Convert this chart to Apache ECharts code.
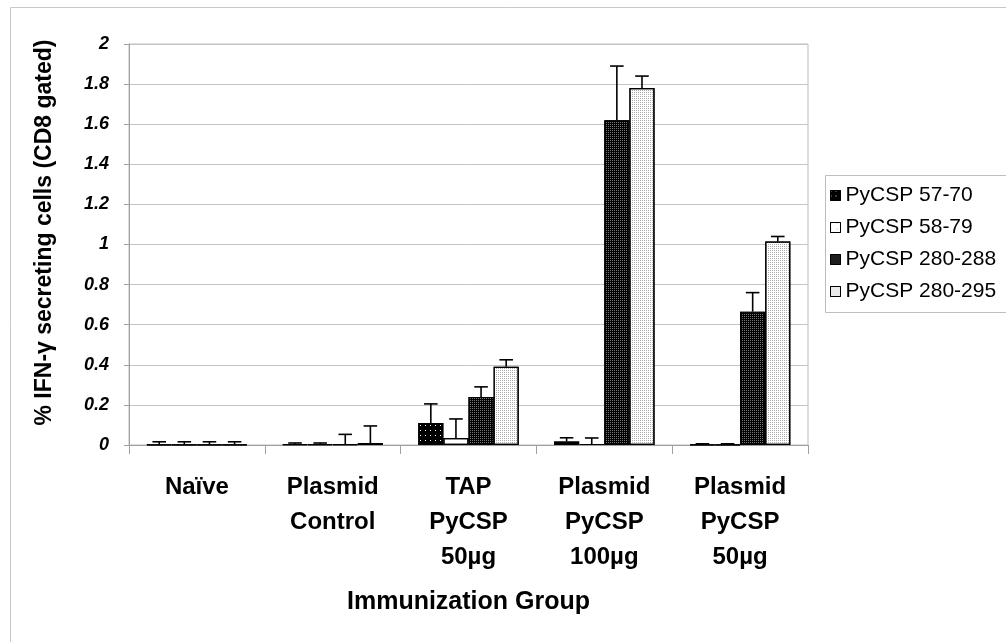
<!DOCTYPE html>
<html>
<head>
<meta charset="utf-8">
<script src="https://cdn.jsdelivr.net/npm/echarts@6/dist/echarts.min.js"></script>
<style>html,body{margin:0;padding:0;background:#fff}#c{width:1006px;height:642px}</style>
</head>
<body>
<div id="c"></div>
<script>
const categories = ['Naïve', 'Plasmid\nControl', 'TAP\nPyCSP\n50µg', 'Plasmid\nPyCSP\n100µg', 'Plasmid\nPyCSP\n50µg'];
const seriesNames = ['PyCSP 57-70', 'PyCSP 58-79', 'PyCSP 280-288', 'PyCSP 280-295'];
const vals5770 = [0.002, 0.003, 0.11, 0.018, 0.002];
const err5770 = [0.014, 0.007, 0.095, 0.018, 0.004];
const vals5879 = [0.002, 0.003, 0.035, 0.005, 0.002];
const err5879 = [0.014, 0.007, 0.095, 0.03, 0.004];
const vals280288 = [0.002, 0.003, 0.24, 1.62, 0.665];
const err280288 = [0.014, 0.05, 0.05, 0.27, 0.095];
const vals280295 = [0.002, 0.01, 0.39, 1.78, 1.015];
const err280295 = [0.014, 0.085, 0.035, 0.06, 0.025];
const yTicks = [0, 0.2, 0.4, 0.6, 0.8, 1, 1.2, 1.4, 1.6, 1.8, 2];

const allVals = [vals5770, vals5879, vals280288, vals280295];
const allErr = [err5770, err5879, err280288, err280295];
const GAP = 0.26;

const styles = [
  {color: '#000', decal: {symbol: 'rect', symbolSize: 1, color: '#ffffff', dashArrayX: [1, 4], dashArrayY: [1, 4]}},
  {color: '#fff', decal: {symbol: 'rect', symbolSize: 1, color: '#bbbbbb', dashArrayX: [1, 5], dashArrayY: [1, 5]}},
  {color: '#000', decal: {symbol: 'rect', symbolSize: 1, color: '#777777', dashArrayX: [1, 1], dashArrayY: [1, 1]}},
  {color: '#fff', decal: {symbol: 'rect', symbolSize: 1, color: '#aaaaaa', dashArrayX: [1, 1], dashArrayY: [1, 1]}}
];

const series = [];
seriesNames.forEach((name, i) => {
  series.push({
    name: name, type: 'bar', data: allVals[i], barGap: '0%', barCategoryGap: (GAP * 100) + '%',
    itemStyle: {color: styles[i].color, decal: styles[i].decal, borderColor: '#000', borderWidth: 1.2},
    emphasis: {disabled: true}, z: 2
  });
});
seriesNames.forEach((name, i) => {
  series.push({
    type: 'custom', name: name + ' err', z: 5, silent: true,
    data: allVals[i].map((v, k) => [k, v, allErr[i][k]]),
    encode: {x: 0, y: 1},
    renderItem: function (params, api) {
      const k = api.value(0), v = api.value(1), e = api.value(2);
      const band = api.size([1, 0])[0];
      const bw = band * (1 - GAP) / 4;
      const base = api.coord([k, v]);
      const top = api.coord([k, v + e]);
      const x = base[0] + (i - 1.5) * bw;
      const cap = bw * 0.27;
      const st = {stroke: '#000', lineWidth: 1.6};
      return {type: 'group', children: [
        {type: 'line', shape: {x1: x, y1: base[1], x2: x, y2: top[1]}, style: st},
        {type: 'line', shape: {x1: x - cap, y1: top[1], x2: x + cap, y2: top[1]}, style: st}
      ]};
    }
  });
});

const chart = echarts.init(document.getElementById('c'), null, {renderer: 'canvas'});
chart.setOption({
  animation: false,
  backgroundColor: '#fff',
  textStyle: {fontFamily: 'Liberation Sans'},
  grid: {left: 129, right: 198, top: 44, bottom: 197, show: true, borderColor: '#bdbdbd', borderWidth: 1},
  legend: {
    data: seriesNames, orient: 'vertical', left: 825, top: 180, itemGap: 11,
    icon: 'rect', itemWidth: 10, itemHeight: 10, itemStyle: {borderColor: '#000', borderWidth: 1},
    textStyle: {fontFamily: 'Liberation Sans', fontSize: 21, color: '#000', padding: [0, 0, 0, 0]},
    selectedMode: false
  },
  xAxis: {
    type: 'category', data: categories,
    name: 'Immunization Group', nameLocation: 'middle', nameGap: 145,
    nameTextStyle: {fontFamily: 'Liberation Sans', fontWeight: 'bold', fontSize: 25, color: '#000'},
    axisLine: {lineStyle: {color: '#a0a0a0'}},
    axisTick: {show: true, length: 9, lineStyle: {color: '#a0a0a0'}},
    axisLabel: {interval: 0, margin: 25, fontFamily: 'Liberation Sans', fontWeight: 'bold', fontSize: 24, lineHeight: 35, color: '#000'}
  },
  yAxis: {
    type: 'value', min: 0, max: 2, interval: 0.2,
    name: '% IFN-γ secreting cells (CD8 gated)', nameLocation: 'middle', nameGap: 73,
    nameTextStyle: {fontFamily: 'Liberation Sans', fontWeight: 'bold', fontSize: 23, color: '#000', padding: [0, 0, 0, 24]},
    axisLine: {show: true, lineStyle: {color: '#a0a0a0'}},
    axisTick: {show: true, length: 5, lineStyle: {color: '#a0a0a0'}},
    splitLine: {lineStyle: {color: '#c4c4c4'}},
    axisLabel: {margin: 20, fontFamily: 'Liberation Sans', fontWeight: 'bold', fontStyle: 'italic', fontSize: 18, color: '#000',
      formatter: function (v) { const t = yTicks.find(x => Math.abs(x - v) < 1e-9); return String(t !== undefined ? t : v); }}
  },
  graphic: [
    {type: 'rect', shape: {x: 10.5, y: 7.5, width: 1010, height: 650}, style: {fill: 'none', stroke: '#c8c8c8', lineWidth: 1}, z: -1, silent: true},
    {type: 'rect', shape: {x: 825.5, y: 175.5, width: 200, height: 137}, style: {fill: 'none', stroke: '#bdbdbd', lineWidth: 1}, z: -1, silent: true}
  ],
  series: series
});
</script>
</body>
</html>
